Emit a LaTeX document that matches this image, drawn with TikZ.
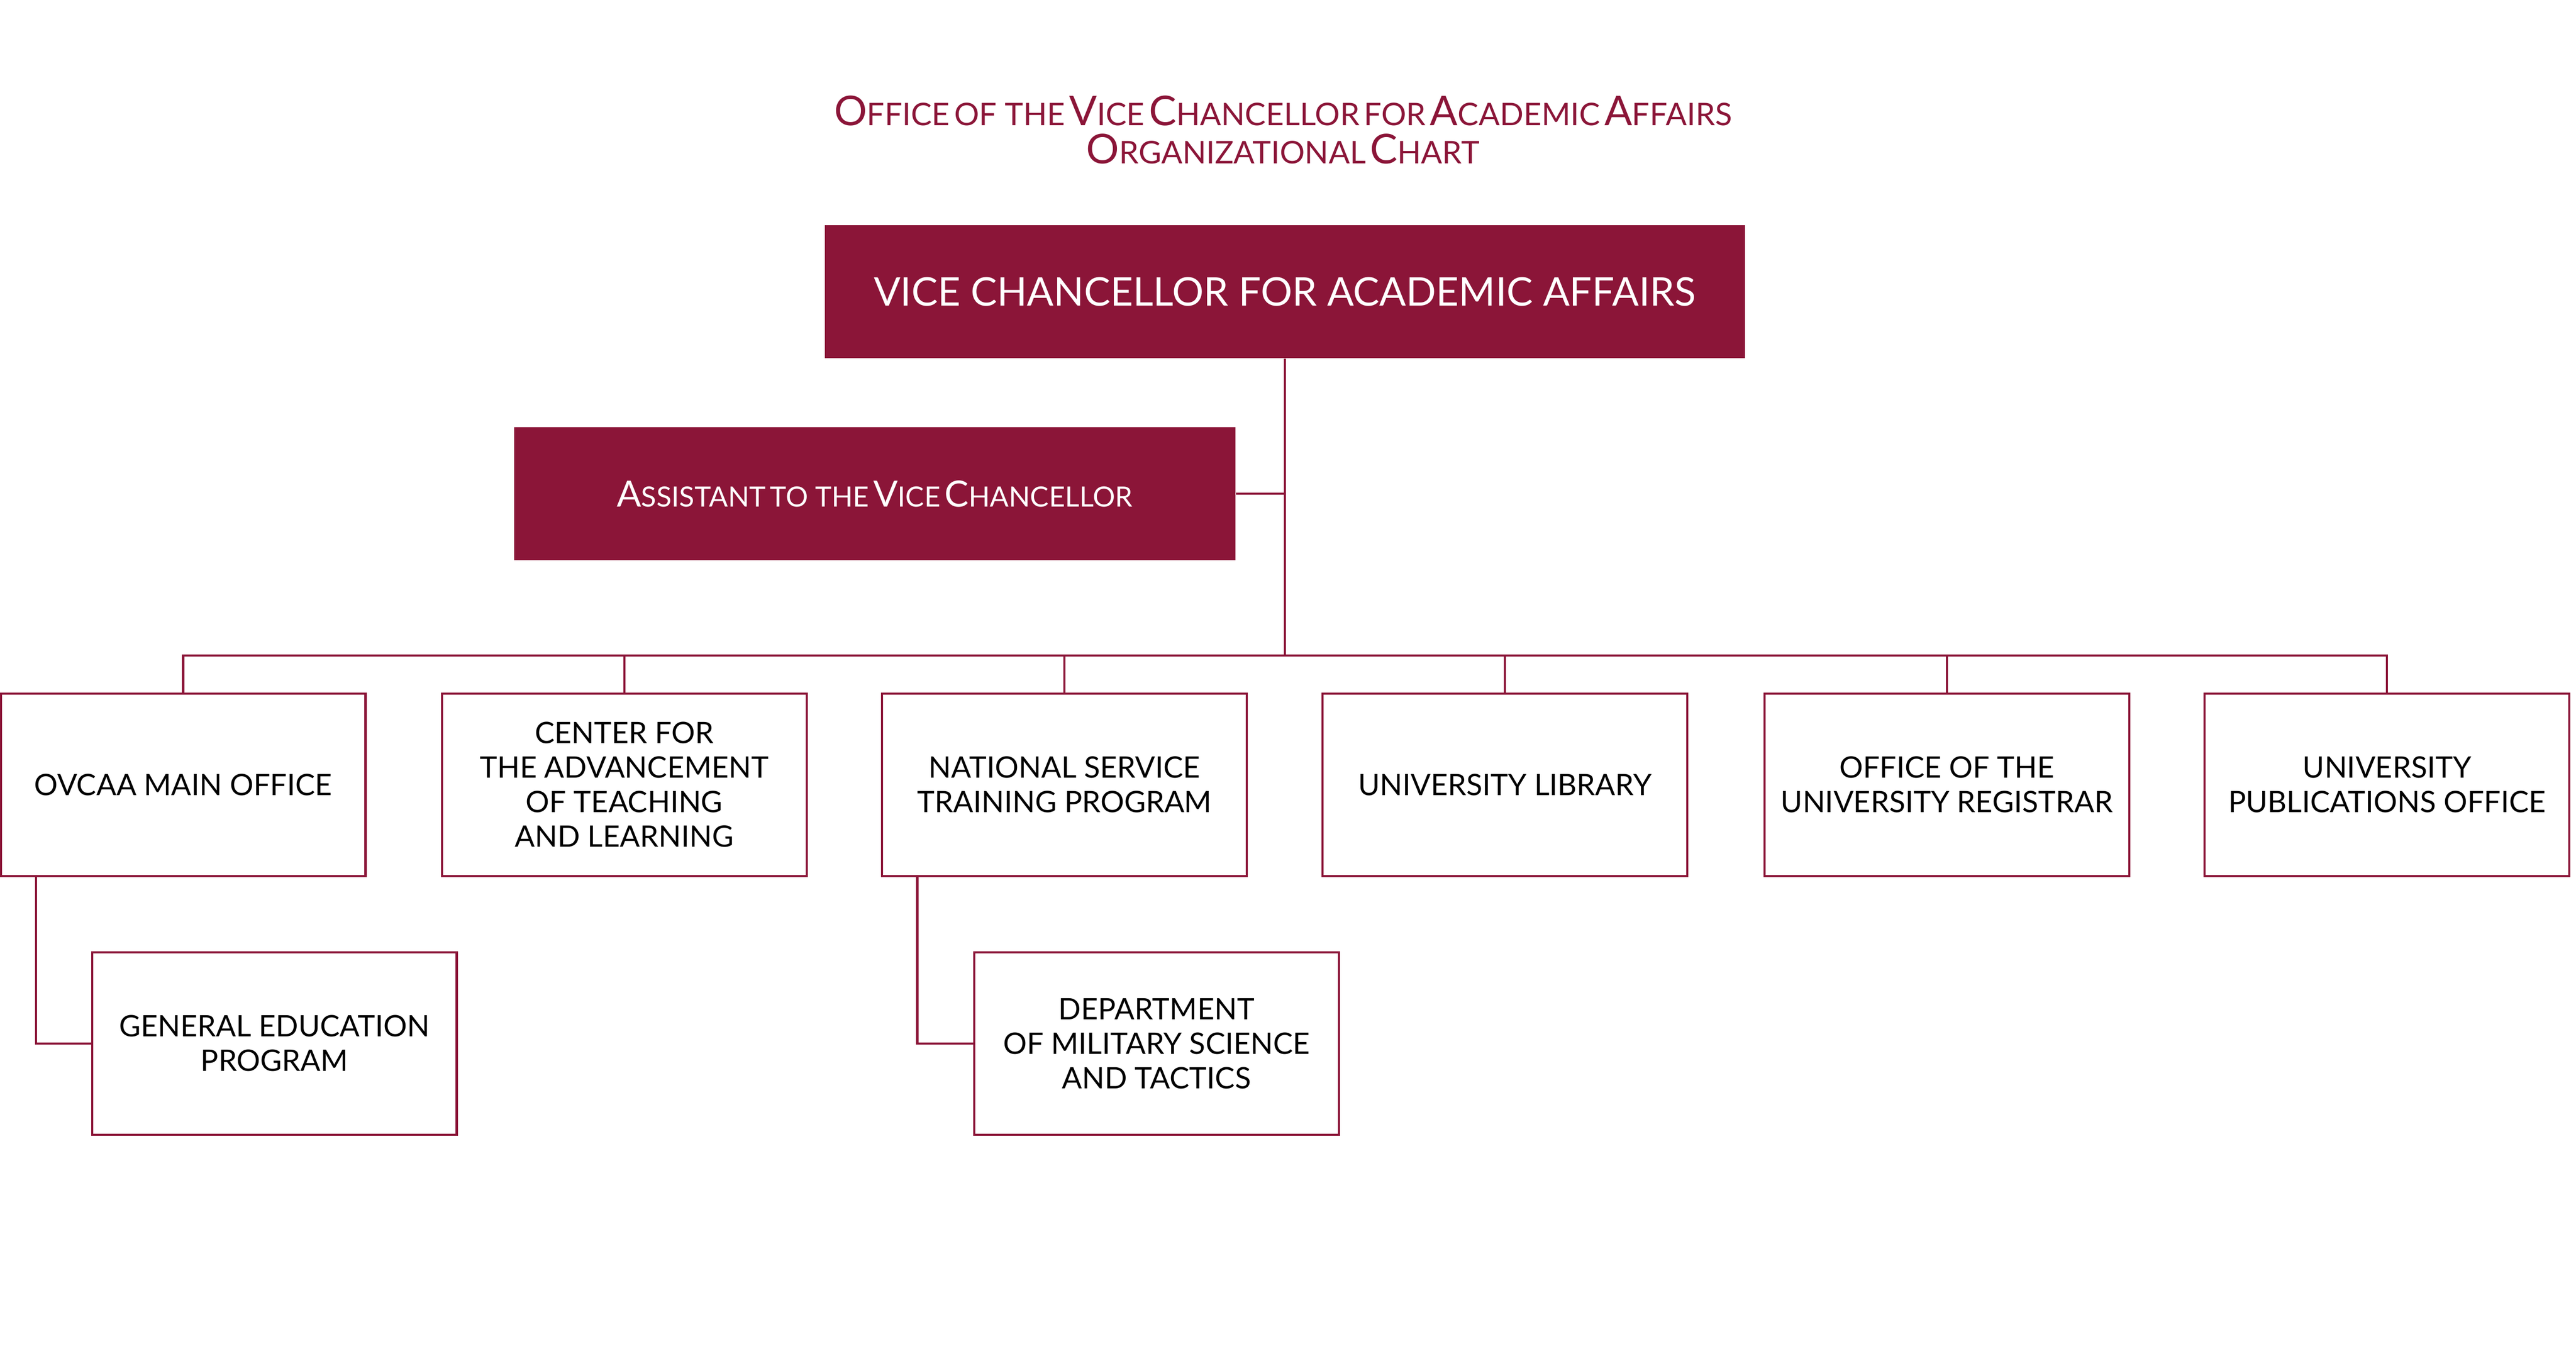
\documentclass[tikz,border=0pt]{standalone}
\usepackage{fontspec}
\setmainfont{Lato}
\definecolor{maroon}{HTML}{8B1538}
\newcommand\Sm[1]{{\fontsize{19}{22}\selectfont\MakeUppercase{#1}}}
\newcommand\Bg[1]{{\fontsize{25}{28}\selectfont #1}}
\newcommand\Sa[1]{{\fontsize{17}{20}\selectfont\MakeUppercase{#1}}}
\newcommand\Ba[1]{{\fontsize{22}{26}\selectfont #1}}
\begin{document}
\begin{tikzpicture}[x=1pt,y=-1pt,
  unit/.style={draw=maroon,line width=1.3pt,fill=white,minimum width=222pt,minimum height=111pt,align=center,font=\fontsize{18}{21}\selectfont,text=black,inner sep=2pt},
  head/.style={fill=maroon,text=white,align=center},
  link/.style={draw=maroon,line width=1.3pt}]
\useasboundingbox (0,0) rectangle (1568,828);
\node[text=maroon,align=center] (title) at (781,79) {\Bg{O}\Sm{ffice} \Sm{of the} \Bg{V}\Sm{ice} \Bg{C}\Sm{hancellor} \Sm{for} \Bg{A}\Sm{cademic} \Bg{A}\Sm{ffairs}\\[4pt]\Bg{O}\Sm{rganizational} \Bg{C}\Sm{hart}};
\node[head,minimum width=560pt,minimum height=81pt,font=\fontsize{24}{28}\selectfont] (vc) at (782,177.5) {VICE CHANCELLOR FOR ACADEMIC AFFAIRS};
\node[head,minimum width=439pt,minimum height=81pt] (as) at (532.5,300.5) {\Ba{A}\Sa{ssistant} \Sa{to the} \Ba{V}\Sa{ice} \Ba{C}\Sa{hancellor}};
\node[unit] (b1) at (111.5,477.5) {OVCAA MAIN OFFICE};
\node[unit] (b2) at (380,477.5) {CENTER FOR\\THE ADVANCEMENT\\OF TEACHING\\AND LEARNING};
\node[unit] (b3) at (648,477.5) {NATIONAL SERVICE\\TRAINING PROGRAM};
\node[unit] (b4) at (916,477.5) {UNIVERSITY LIBRARY};
\node[unit] (b5) at (1185,477.5) {OFFICE OF THE\\UNIVERSITY REGISTRAR};
\node[unit] (b6) at (1453,477.5) {UNIVERSITY\\PUBLICATIONS OFFICE};
\node[unit] (s1) at (167,635) {GENERAL EDUCATION\\PROGRAM};
\node[unit] (s2) at (704,635) {DEPARTMENT\\OF MILITARY SCIENCE\\AND TACTICS};
\coordinate (bus) at (782,399);
\draw[link] (vc.south) -- (bus);
\draw[link] (as.east) -- (as.east -| vc.south);
\draw[link] (b1.north) |- (bus) -| (b6.north);
\foreach \b in {b2,b3,b4,b5} \draw[link] (\b.north) -- (\b.north |- bus);
\draw[link] ([xshift=22pt]b1.south west) |- (s1.west);
\draw[link] ([xshift=22pt]b3.south west) |- (s2.west);
\end{tikzpicture}
\end{document}
